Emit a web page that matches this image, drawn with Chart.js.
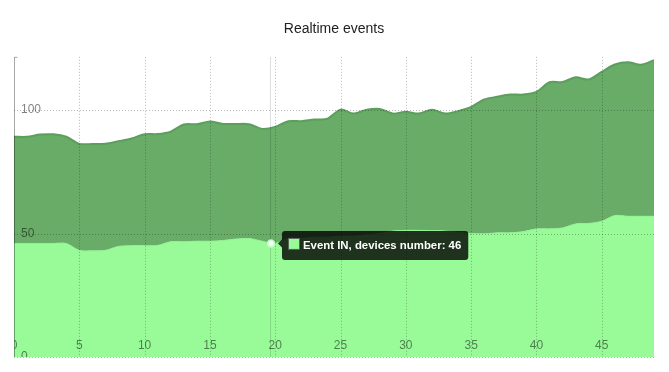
<!DOCTYPE html>
<html>
<head>
<meta charset="utf-8">
<script src="https://cdn.jsdelivr.net/npm/chart.js@4.4.4/dist/chart.umd.min.js"></script>
<style>
  html, body { margin: 0; padding: 0; background: #fff; }
  #wrap { width: 669px; height: 372px; }
</style>
</head>
<body>
<div id="wrap"><canvas id="chart" width="669" height="372"></canvas></div>
<script>
// x positions (seconds in the realtime window)
const xValues = [
  0, 1, 2, 3, 4, 5, 6, 7, 8, 9,
  10, 11, 12, 13, 14, 15, 16, 17, 18, 19,
  20, 21, 22, 23, 24, 25, 26, 27, 28, 29,
  30, 31, 32, 33, 34, 35, 36, 37, 38, 39,
  40, 41, 42, 43, 44, 45, 46, 47, 48, 49
]

// devices per event type
const eventsIn = [
  46, 46, 46, 46, 46, 43.2, 43, 43.2, 44.8, 45.1,
  45.1, 45.2, 46.7, 46.7, 46.9, 46.9, 47.2, 47.8, 48, 46.9,
  46, 48, 48, 48.5, 48.5, 49, 49, 49.5, 50, 51,
  51.3, 51.3, 51.2, 51, 50.5, 50, 49.9, 50.3, 50.3, 50.8,
  51.9, 51.9, 52.3, 53.9, 54.1, 55, 57.3, 57, 57, 57
]
const eventsOut = [
  43.2, 43.2, 44.1, 44.2, 43.2, 43.1, 43.3, 43.2, 42.6, 43.4,
  45.1, 45.1, 44.6, 47.5, 47.4, 48.5, 47.2, 46.6, 46.3, 45.5,
  47.2, 47.5, 47.5, 47.7, 48, 51.2, 49.6, 50.7, 50.5, 47.6,
  48, 47.3, 49, 47.6, 49.1, 51.3, 54.4, 55.1, 56, 55.5,
  55.5, 59.4, 59.1, 59.4, 58.3, 60.5, 61.2, 62.4, 61.4, 63.2
]

const xTicks = [0, 5, 10, 15, 20, 25, 30, 35, 40, 45]
const yTicks = [0, 50, 100]

// mouse position of the hover detail and the point it snapped to
const hoverX = 19.6
const hoverIndex = 20

const FONT = '"Liberation Sans", Arial, Helvetica, sans-serif'

// Rickshaw-like grid, axis labels and hover detail
const rickshawOverlay = {
  id: "rickshawOverlay",
  afterDatasetsDraw(chart) {
    const ctx = chart.ctx
    const area = chart.chartArea
    const xs = chart.scales.x
    const ys = chart.scales.y

    ctx.save()

    // dotted grid
    ctx.strokeStyle = "rgba(0, 0, 0, 0.28)"
    ctx.lineWidth = 1
    ctx.setLineDash([1, 2])
    xTicks.forEach(t => {
      if (t === 0) return
      const px = Math.round(xs.getPixelForValue(t)) + 0.5
      ctx.beginPath()
      ctx.moveTo(px, area.top)
      ctx.lineTo(px, area.bottom)
      ctx.stroke()
    })
    yTicks.forEach(t => {
      const py = Math.round(ys.getPixelForValue(t)) + 0.5
      ctx.beginPath()
      ctx.moveTo(area.left, py)
      ctx.lineTo(area.right, py)
      ctx.stroke()
    })
    ctx.setLineDash([])

    // y axis domain line
    const ax = Math.round(area.left) + 0.5
    ctx.strokeStyle = "rgba(0, 0, 0, 0.35)"
    ctx.beginPath()
    ctx.moveTo(ax + 3, area.top + 0.5)
    ctx.lineTo(ax, area.top + 0.5)
    ctx.lineTo(ax, area.bottom)
    ctx.stroke()

    // labels, clipped to the plot
    ctx.beginPath()
    ctx.rect(area.left, area.top, area.right - area.left, area.bottom - area.top)
    ctx.clip()
    ctx.font = "12px " + FONT
    ctx.fillStyle = "rgba(0, 0, 0, 0.5)"
    ctx.textBaseline = "middle"
    ctx.textAlign = "left"
    yTicks.forEach(t => {
      ctx.fillText(String(t), area.left + 7, ys.getPixelForValue(t))
    })
    ctx.textAlign = "center"
    xTicks.forEach(t => {
      ctx.fillText(String(t), xs.getPixelForValue(t), area.bottom - 11)
    })
    ctx.restore()

    // hover line
    ctx.save()
    const hx = xs.getPixelForValue(hoverX)
    ctx.strokeStyle = "rgba(0, 0, 0, 0.13)"
    ctx.lineWidth = 1
    ctx.beginPath()
    ctx.moveTo(Math.round(hx) + 0.5, area.top)
    ctx.lineTo(Math.round(hx) + 0.5, area.bottom)
    ctx.stroke()

    // hover dot
    const value = eventsIn[hoverIndex]
    const hy = ys.getPixelForValue(value)
    ctx.fillStyle = "#ffffff"
    ctx.strokeStyle = "rgba(200, 255, 200, 0.9)"
    ctx.lineWidth = 2
    ctx.beginPath()
    ctx.arc(hx + 1, hy, 3.2, 0, Math.PI * 2)
    ctx.fill()
    ctx.stroke()

    // tooltip box
    const label = chart.data.datasets[0].label + ", devices number: " + value
    ctx.font = "bold 11.4px " + FONT
    const tw = ctx.measureText(label).width
    const bx = hx + 12
    const by = hy - 12.5
    const bw = tw + 28
    const bh = 29
    ctx.fillStyle = "rgba(0, 0, 0, 0.8)"
    ctx.beginPath()
    ctx.roundRect(bx, by, bw, bh, 3)
    ctx.fill()
    ctx.beginPath()
    ctx.moveTo(bx, hy - 4)
    ctx.lineTo(bx - 4, hy)
    ctx.lineTo(bx, hy + 4)
    ctx.closePath()
    ctx.fill()

    ctx.fillStyle = chart.data.datasets[0].backgroundColor
    ctx.strokeStyle = "rgba(255, 255, 255, 0.25)"
    ctx.lineWidth = 1
    ctx.fillRect(bx + 7, by + 8, 10, 10)
    ctx.strokeRect(bx + 6.5, by + 7.5, 11, 11)

    ctx.fillStyle = "#ffffff"
    ctx.textAlign = "left"
    ctx.textBaseline = "middle"
    ctx.fillText(label, bx + 21, by + 14.5)
    ctx.restore()
  }
}

const ctx = document.getElementById("chart").getContext("2d")

new Chart(ctx, {
  type: "line",
  data: {
    datasets: [
      {
        label: "Event IN",
        data: xValues.map((x, i) => ({ x: x, y: eventsIn[i] })),
        backgroundColor: "#98fb98",
        borderColor: "#93f093",
        borderWidth: 1,
        fill: "origin",
        tension: 0.3,
        pointRadius: 0
      },
      {
        label: "Event OUT",
        data: xValues.map((x, i) => ({ x: x, y: eventsOut[i] })),
        backgroundColor: "#68ac68",
        borderColor: "#5c9e5c",
        borderWidth: 2,
        fill: "-1",
        tension: 0.3,
        pointRadius: 0
      }
    ]
  },
  options: {
    responsive: false,
    animation: false,
    events: [],
    layout: { padding: { left: 14, right: 15, top: 0, bottom: 15 } },
    plugins: {
      legend: { display: false },
      tooltip: { enabled: false },
      title: {
        display: true,
        text: "Realtime events",
        color: "#222",
        font: { family: FONT, size: 14, weight: "normal" },
        padding: { top: 21, bottom: 19 }
      }
    },
    scales: {
      x: { type: "linear", min: 0, max: 49, display: false },
      y: { stacked: true, min: 0, max: 121.6, display: false }
    }
  },
  plugins: [rickshawOverlay]
})
</script>
</body>
</html>
